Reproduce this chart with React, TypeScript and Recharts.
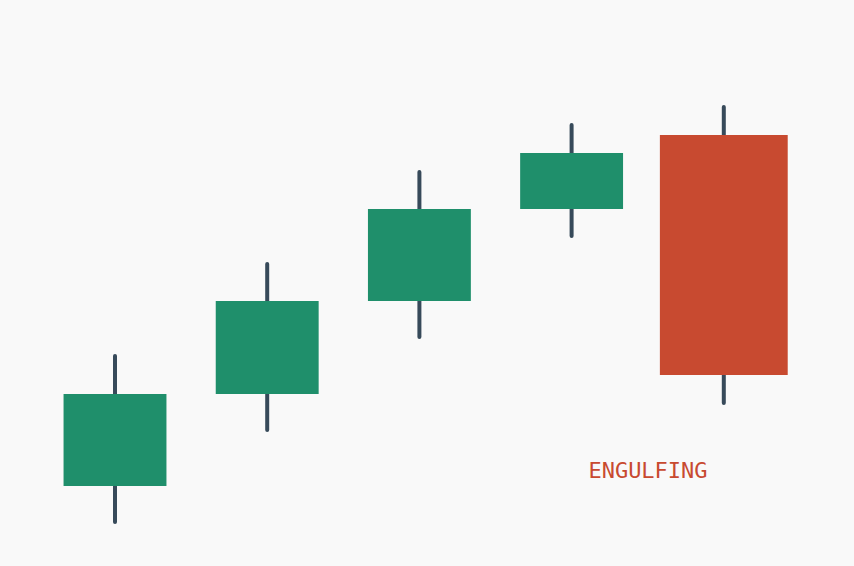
import { ComposedChart, Bar, XAxis, YAxis, Customized } from "recharts";

const days = ["D1", "D2", "D3", "D4", "D5"];
const opens = [8.0, 17.2, 26.5, 35.7, 43.1];
const closes = [17.2, 26.5, 35.7, 41.3, 19.1];
const highs = [21.1, 30.3, 39.5, 44.2, 46.0];
const lows = [4.3, 13.5, 22.8, 32.9, 16.2];
const patternLabel = "ENGULFING";

const UP = "#1f8f6b";
const DOWN = "#c84a30";
const WICK = "#374a5a";

const data = days.map((day, i) => ({
  day, open: opens[i], close: closes[i], high: highs[i], low: lows[i],
}));

function Candle(props: any) {
  const { x, y, width, height, payload } = props;
  const { open, close, high, low } = payload;
  const k = height / (high - low);
  const bull = close >= open;
  const bodyTop = y + (high - Math.max(open, close)) * k;
  const bodyBottom = y + (high - Math.min(open, close)) * k;
  const bw = width * (bull ? 0.677 : 0.841);
  const cx = x + width / 2;
  return (
    <g>
      <line x1={cx} x2={cx} y1={y + 1} y2={y + height - 1} stroke={WICK} strokeWidth={4} strokeLinecap="round" />
      <rect x={cx - bw / 2} y={bodyTop} width={bw} height={bodyBottom - bodyTop} fill={bull ? UP : DOWN} />
    </g>
  );
}

function PatternLabel() {
  return (
    <text x={648} y={478} textAnchor="middle" fill={DOWN}
      fontFamily="'DejaVu Sans Mono', monospace" fontSize={22}>
      {patternLabel}
    </text>
  );
}

export default function App() {
  return (
    <div style={{ position: "fixed", left: 0, top: 0, width: 854, height: 566, background: "#f9f9f9" }}>
      <ComposedChart width={854} height={566} data={data} margin={{ top: 0, right: 0, bottom: 0, left: 0 }}
        barCategoryGap={0}>
        <XAxis dataKey="day" hide padding={{ left: 39, right: 54 }} />
        <YAxis hide domain={[0, 56.6]} />
        <Bar dataKey={(d: any) => [d.low, d.high]} shape={<Candle />} isAnimationActive={false} />
        <Customized component={<PatternLabel />} />
      </ComposedChart>
    </div>
  );
}
